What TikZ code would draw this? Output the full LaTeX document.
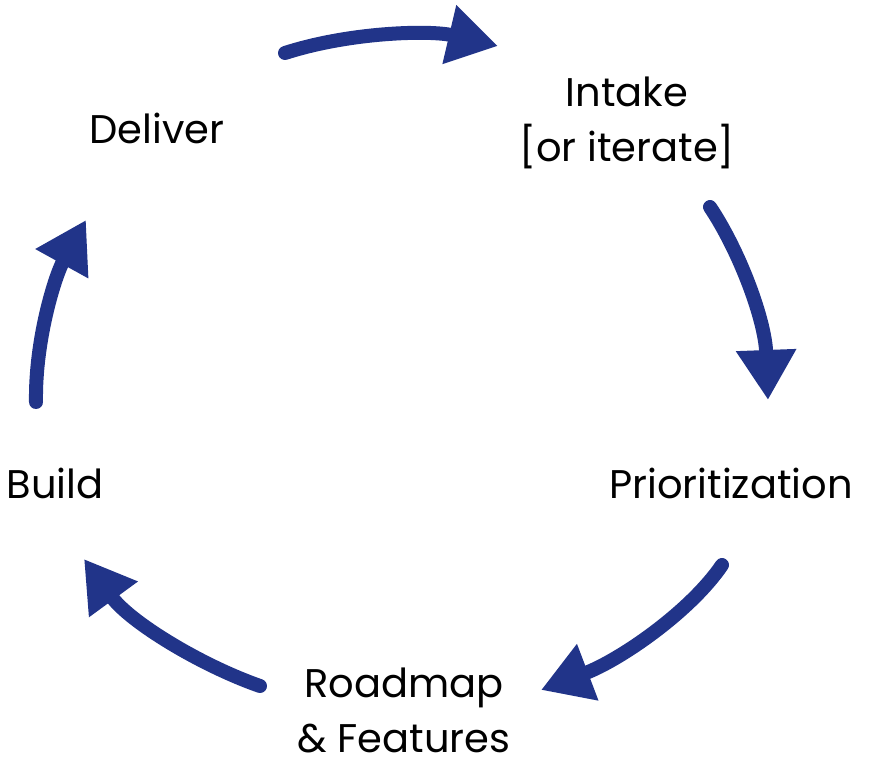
\documentclass[tikz,border=0pt]{standalone}
\usepackage{fontspec}
\setmainfont{Poppins}
\usetikzlibrary{arrows.meta}
\definecolor{cycleblue}{RGB}{33,52,137}
\begin{document}
\begin{tikzpicture}[x=1pt,y=-1pt,
  cyc/.style={draw=cycleblue, line width=14pt, line cap=round,
    -{Triangle[length=50pt,width=57pt,fill=cycleblue]}},
  lbl/.style={font=\fontsize{40}{55}\selectfont, align=center, text=black, inner sep=0pt}]
\useasboundingbox (0,0) rectangle (871,767);
\node[lbl] (intake) at (627,123) {Intake\\{[or iterate]}};
\node[lbl] (prio) at (731,483) {Prioritization};
\node[lbl] (road) at (404,710) {Roadmap\\\& Features};
\node[lbl] (build) at (55,483) {Build};
\node[lbl] (deliver) at (157,128) {Deliver};
\coordinate (a1s) at (285,53);  \coordinate (a1e) at (498,46);
\coordinate (a2s) at (710,207); \coordinate (a2e) at (768,400);
\coordinate (a3s) at (722,565); \coordinate (a3e) at (541,690);
\coordinate (a4s) at (260,686); \coordinate (a4e) at (84,559);
\coordinate (a5s) at (36,402);  \coordinate (a5e) at (86,220);
\draw[cyc] (a1s) .. controls (350,32) and (430,30) .. (a1e);
\draw[cyc] (a2s) .. controls (740,252) and (765,320) .. (a2e);
\draw[cyc] (a3s) .. controls (690,612) and (620,660) .. (a3e);
\draw[cyc] (a4s) .. controls (200,665) and (130,622) .. (a4e);
\draw[cyc] (a5s) .. controls (35,340) and (55,276) .. (a5e);
\end{tikzpicture}
\end{document}
